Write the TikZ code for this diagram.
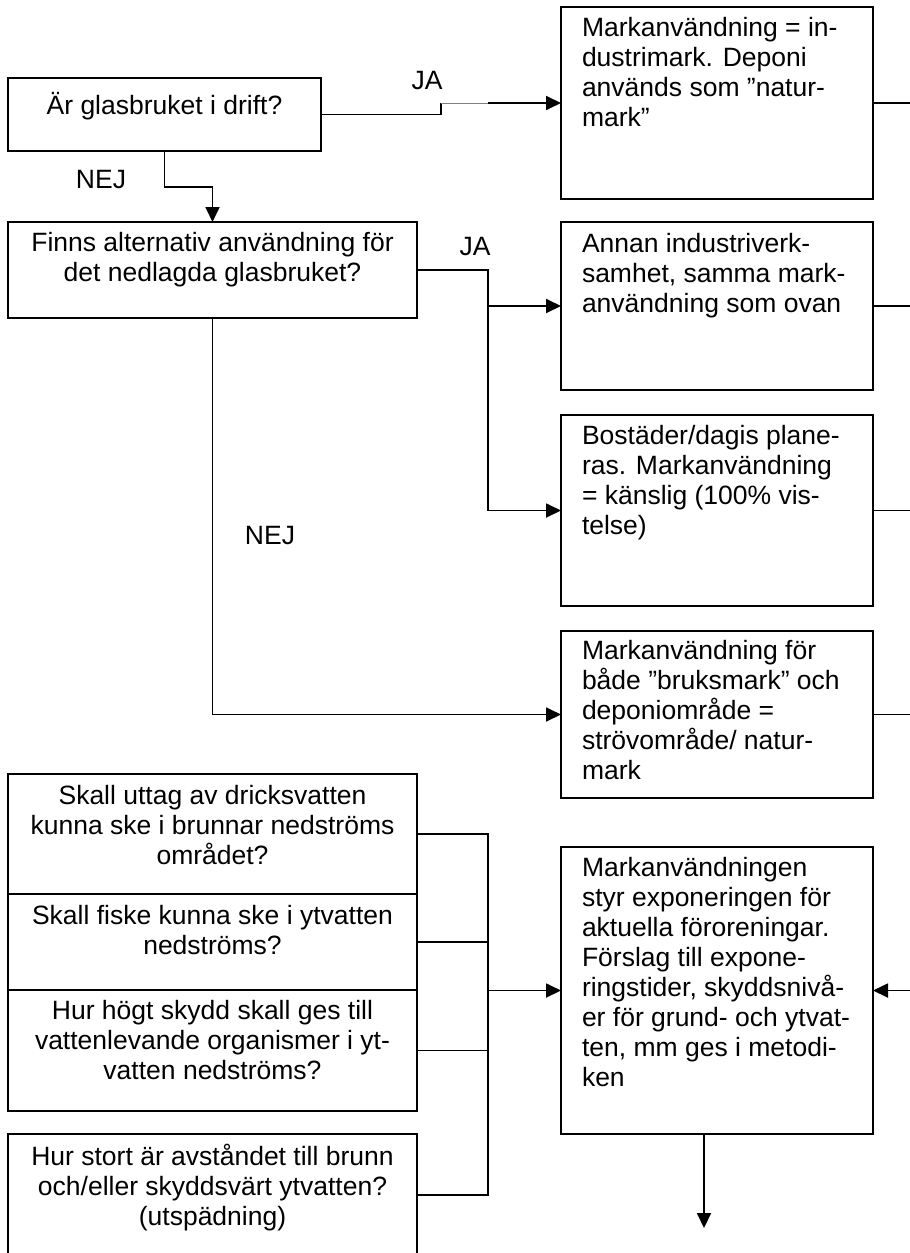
\documentclass[tikz,border=0pt]{standalone}
\usepackage{fontspec}
\setmainfont{Liberation Sans}
\usetikzlibrary{arrows.meta,calc}

\begin{document}
\begin{tikzpicture}[x=1pt,y=-1pt,
  every node/.style={inner sep=0pt, outer sep=0pt},
  box/.style={draw, line width=1.8pt, rectangle, anchor=north west},
  txt/.style={font=\fontsize{26.5}{30}\selectfont,
    execute at begin node={\rule{0pt}{25pt}}},
  lefttxt/.style={txt, align=left, anchor=north west},
  centxt/.style={txt, align=center, anchor=north},
  lbl/.style={font=\fontsize{26.5}{30}\selectfont, anchor=base},
  conn/.style={line width=1.8pt},
  arr/.style={conn, -{Triangle[length=15pt,width=14pt]}},
]
\useasboundingbox (0,0) rectangle (910,1253);

% question boxes on the left
\node[box, minimum width=313pt, minimum height=73pt]  (q0) at (8,78) {};
\node[box, minimum width=409pt, minimum height=96pt]  (q1) at (8,222) {};
\node[box, minimum width=409pt, minimum height=120pt] (qa) at (8,774) {};
\node[box, minimum width=409pt, minimum height=96pt]  (qb) at (8,894) {};
\node[box, minimum width=409pt, minimum height=121pt] (qc) at (8,990) {};
\node[box, minimum width=409pt, minimum height=122pt] (qd) at (8,1134) {};

% result boxes on the right
\node[box, minimum width=312pt, minimum height=192pt] (r1) at (561,7) {};
\node[box, minimum width=312pt, minimum height=168pt] (r2) at (561,222) {};
\node[box, minimum width=312pt, minimum height=191pt] (r3) at (561,415) {};
\node[box, minimum width=312pt, minimum height=167pt] (r4) at (561,631) {};
\node[box, minimum width=312pt, minimum height=287pt] (m)  at (561,847) {};

% texts
\node[centxt] (q0t) at ($(q0.north)+(0,11)$) {Är glasbruket i drift?};
\node[centxt] (q1t) at ($(q1.north)+(0,10)$) {Finns alternativ användning för\\det nedlagda glasbruket?};
\node[centxt] (qat) at ($(qa.north)+(0,11)$) {Skall uttag av dricksvatten\\kunna ske i brunnar nedströms\\området?};
\node[centxt] (qbt) at ($(qb.north)+(0,11)$) {Skall fiske kunna ske i ytvatten\\nedströms?};
\node[centxt] (qct) at ($(qc.north)+(0,10)$) {Hur högt skydd skall ges till\\vattenlevande organismer i yt-\\vatten nedströms?};
\node[centxt] (qdt) at ($(qd.north)+(0,10)$) {Hur stort är avståndet till brunn\\och/eller skyddsvärt ytvatten?\\(utspädning)};

\node[lefttxt] (r1t) at ($(r1.north west)+(21,10)$) {Markanvändning = in-\\dustrimark. Deponi\\används som ”natur-\\mark”};
\node[lefttxt] (r2t) at ($(r2.north west)+(21,11)$) {Annan industriverk-\\samhet, samma mark-\\användning som ovan};
\node[lefttxt] (r3t) at ($(r3.north west)+(21,10)$) {Bostäder/dagis plane-\\ras. Markanvändning\\= känslig (100\% vis-\\telse)};
\node[lefttxt] (r4t) at ($(r4.north west)+(21,9)$) {Markanvändning för\\både ”bruksmark” och\\deponiområde =\\strövområde/ natur-\\mark};
\node[lefttxt] (mt) at ($(m.north west)+(21,10)$) {Markanvändningen\\styr exponeringen för\\aktuella föroreningar.\\Förslag till expone-\\ringstider, skyddsnivå-\\er för grund- och ytvat-\\ten, mm ges i metodi-\\ken};

% branch labels
\node[lbl] (ja1)  at (427,89)  {JA};
\node[lbl] (ja2)  at (475,255) {JA};
\node[lbl] (nej1) at (101,188) {NEJ};
\node[lbl] (nej2) at (270,544) {NEJ};

% helper points
\coordinate (jog)   at (441,103);
\coordinate (jogb)  at (488,103);
\coordinate (nbend) at (164.5,187);
\coordinate (split) at (488,270);
\coordinate (bus)   at (488,0);
\coordinate (edge)  at (912,0);
\coordinate (out)   at (704,1228);

% connectors from the first question
\draw[conn] (q0.east) -| (jog);
\draw[line width=0.7pt, gray] (jog) -- (jogb);
\draw[arr] (jogb) -- (r1.west);
\draw[arr] (q0.south) -- (nbend) -| (q1.north);

% connectors from the second question
\draw[arr] (q1.east) -- (split) |- (r3.west);
\draw[arr] (split |- r2.west) -- (r2.west);
\draw[arr] (q1.south) |- (r4.west);

% lines leaving to the right
\draw[conn] (r1.east) -- (r1.east -| edge);
\draw[conn] (r2.east) -- (r2.east -| edge);
\draw[conn] (r3.east) -- (r3.east -| edge);
\draw[conn] (r4.east) -- (r4.east -| edge);
\draw[arr] (m.east -| edge) -- (m.east);

% collecting bus for the questions on water
\draw[conn] (qa.east) -- (qa.east -| bus) -- (qd.east -| bus) -- (qd.east);
\draw[conn] (qb.east) -- (qb.east -| bus);
\draw[conn] (qc.east) -- (qc.east -| bus);
\draw[arr] (m.west -| bus) -- (m.west);

% output of the final box
\draw[arr] (out |- m.south) -- (out);
\end{tikzpicture}
\end{document}
